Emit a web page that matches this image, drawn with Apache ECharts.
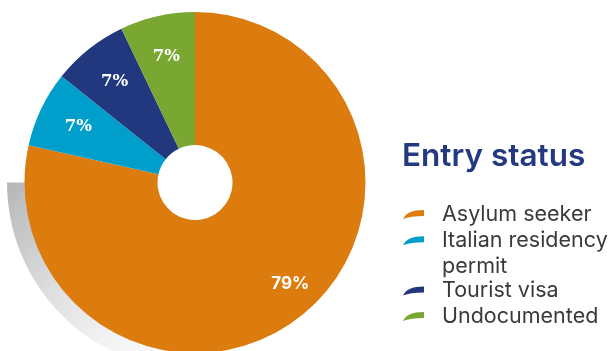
<!DOCTYPE html>
<html><head><meta charset="utf-8">
<script src="https://cdn.jsdelivr.net/npm/echarts@6/dist/echarts.min.js"></script>
<style>html,body{margin:0;padding:0;background:#fff}#c{width:608px;height:351px}</style>
</head><body><div id="c"></div>
<script>
const categories = ['Asylum seeker', 'Italian residency permit', 'Tourist visa', 'Undocumented'];
const legendLabels = ['Asylum seeker', '\nItalian residency\npermit', 'Tourist visa', 'Undocumented'];
const values = [78.5, 7.2, 7.2, 7.1];
const sliceLabels = ['79%', '7%', '7%', '7%'];
const colors = ['#DC7C0E', '#009FCB', '#22387E', '#79A731'];
const titleText = 'Entry status';

const CENTER = [195, 182.5];
const iconPath = 'path://M0,10 C3,4 9,1 21,1 L21,7 C12,7 5,8 0,10 Z';
const legendTops = [201.75, 202.5, 278.25, 303.75];

const chart = echarts.init(document.getElementById('c'), null, {renderer: 'canvas'});
chart.setOption({
  animation: false,
  backgroundColor: '#fff',
  title: {
    text: titleText, left: 402, top: 141, padding: 0,
    textStyle: {fontFamily: 'Inter', fontWeight: 600, fontSize: 31.5, color: '#233A80'}
  },
  legend: categories.map((name, i) => ({
    data: [name], left: 403, top: legendTops[i], padding: 0, orient: 'vertical',
    icon: iconPath, itemWidth: 21, itemHeight: 9, selectedMode: false,
    formatter: () => legendLabels[i],
    textStyle: {
      fontFamily: 'Inter', fontSize: 21.5, color: '#3A3A3A', lineHeight: 25.5,
      padding: [0, 0, 0, 13]
    }
  })),
  series: [
    {
      type: 'pie', name: 'shadow', silent: true, z: 1,
      center: CENTER, radius: [150, 188], startAngle: 270, clockwise: true,
      label: {show: false}, labelLine: {show: false}, emphasis: {disabled: true},
      data: [
        {value: 1, name: '_s1', itemStyle: {color: new echarts.graphic.LinearGradient(0, 0, 1, 1, [
          {offset: 0, color: '#b4b6b8'}, {offset: 0.4, color: '#dddedf'},
          {offset: 0.7, color: '#f4f4f4'}, {offset: 1, color: '#ffffff'}])}},
        {value: 3, name: '_s2', itemStyle: {color: 'rgba(0,0,0,0)'}}
      ]
    },
    {
      type: 'pie', name: 'Entry status', z: 2,
      center: CENTER, radius: [37.5, 170.5], startAngle: 90, clockwise: true,
      label: {show: false}, labelLine: {show: false}, emphasis: {disabled: true},
      data: categories.map((n, i) => ({name: n, value: values[i], itemStyle: {color: colors[i]}}))
    },
    {
      type: 'pie', name: 'labels', silent: true, z: 3,
      center: CENTER, radius: [82, 170.5], startAngle: 90, clockwise: true,
      labelLine: {show: false}, emphasis: {disabled: true},
      label: {show: true, position: 'inside', color: '#fff'},
      data: categories.map((n, i) => ({
        name: n, value: values[i], itemStyle: {color: 'rgba(0,0,0,0)'},
        label: i === 0
          ? {formatter: sliceLabels[i], fontFamily: 'Inter', fontWeight: 700, fontSize: 17, color: '#fff', offset: [14.5, 0.5]}
          : {formatter: sliceLabels[i], fontFamily: 'DejaVu Serif', fontWeight: 'bold', fontSize: 16.5, color: '#fff'}
      }))
    }
  ]
});
</script>
</body></html>
